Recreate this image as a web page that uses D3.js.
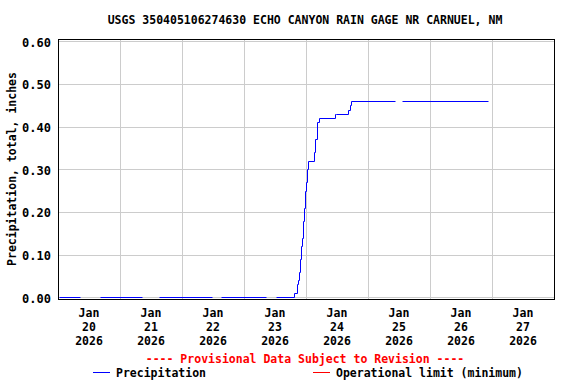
<!DOCTYPE html>
<html>
<head>
<meta charset="utf-8">
<script src="https://cdn.jsdelivr.net/npm/d3@7"></script>
<style>
  body { margin: 0; background: #fff; }
  text { font-family: "DejaVu Sans Mono", monospace; font-weight: bold; font-size: 11.5px; }
</style>
</head>
<body>
<div id="chart"></div>
<script>
// precipitation record, cumulative inches (null = missing data, breaks the line)
var times = [
  "2026-01-20T00:15", "2026-01-20T08:30", "2026-01-20T12:00",
  "2026-01-20T16:15", "2026-01-21T08:30", "2026-01-21T12:00",
  "2026-01-21T15:00", "2026-01-22T11:30", "2026-01-22T13:00",
  "2026-01-22T15:00", "2026-01-23T08:30", "2026-01-23T10:00",
  "2026-01-23T12:30", "2026-01-23T19:30", "2026-01-23T20:35",
  "2026-01-23T21:00", "2026-01-23T21:20", "2026-01-23T21:40",
  "2026-01-23T22:10", "2026-01-23T22:35", "2026-01-23T23:00",
  "2026-01-23T23:25", "2026-01-23T23:40", "2026-01-24T00:05",
  "2026-01-24T00:30", "2026-01-24T00:55", "2026-01-24T03:10",
  "2026-01-24T03:35", "2026-01-24T04:25", "2026-01-24T04:55",
  "2026-01-24T11:15", "2026-01-24T11:40", "2026-01-24T16:25",
  "2026-01-24T17:00", "2026-01-24T17:30", "2026-01-25T10:30",
  "2026-01-25T12:00", "2026-01-25T13:20", "2026-01-26T22:20"
];
var precip = [
  0.00, 0.00, null,
  0.00, 0.00, null,
  0.00, 0.00, null,
  0.00, 0.00, null,
  0.00, 0.01, 0.03,
  0.04, 0.06, 0.09,
  0.12, 0.14, 0.18,
  0.21, 0.25, 0.27,
  0.30, 0.32, 0.34,
  0.37, 0.41, 0.42,
  0.43, 0.43, 0.44,
  0.45, 0.46, 0.46,
  null, 0.46, 0.46
];
var yTicks = [0, 0.1, 0.2, 0.3, 0.4, 0.5, 0.6];
var dayTicks = ["2026-01-20", "2026-01-21", "2026-01-22", "2026-01-23",
                "2026-01-24", "2026-01-25", "2026-01-26", "2026-01-27"];

var W = 576, H = 384;
var margin = {top: 39, right: 22, bottom: 85, left: 58};
var width = W - margin.left - margin.right,
    height = H - margin.top - margin.bottom;

var parse = d3.utcParse("%Y-%m-%dT%H:%M");
var parseDay = d3.utcParse("%Y-%m-%d");
var data = times.map(function(t, i) { return {t: parse(t), v: precip[i]}; });
var days = dayTicks.map(parseDay);

var x = d3.scaleUtc()
  .domain([parseDay("2026-01-20"), parseDay("2026-01-28")])
  .range([0, width]);
var y = d3.scaleLinear().domain([-0.004, 0.6055]).range([height, 0]);

var svg = d3.select("#chart").append("svg")
  .attr("width", W).attr("height", H)
  .append("g")
  .attr("transform", "translate(" + margin.left + "," + margin.top + ")");

// grid
svg.append("g").selectAll("line.h").data(yTicks).enter().append("line")
  .attr("x1", 0).attr("x2", width)
  .attr("y1", d => Math.round(y(d)) + 0.5).attr("y2", d => Math.round(y(d)) + 0.5)
  .attr("stroke", "#cccccc");
svg.append("g").selectAll("line.v").data(days.slice(1)).enter().append("line")
  .attr("x1", d => Math.round(x(d)) + 0.5).attr("x2", d => Math.round(x(d)) + 0.5)
  .attr("y1", 0).attr("y2", height)
  .attr("stroke", "#cccccc");

// y axis labels
var yAxis = d3.axisLeft(y).tickValues(yTicks).tickFormat(d3.format(".2f")).tickSize(0).tickPadding(7);
svg.append("g").call(yAxis).call(g => g.select(".domain").remove())
  .selectAll("text").attr("fill", "#000").style("font-size", "12px")
  .attr("dy", "0.4em");

// x labels, centred at noon of each day
var xl = svg.append("g").selectAll("g").data(days).enter().append("g")
  .attr("transform", d => "translate(" + x(d3.utcHour.offset(d, 12)) + "," + height + ")");
xl.append("text").attr("y", 18).attr("text-anchor", "middle").text("Jan");
xl.append("text").attr("y", 32).attr("text-anchor", "middle").text(d => d3.utcFormat("%d")(d));
xl.append("text").attr("y", 46).attr("text-anchor", "middle").text(d => d3.utcFormat("%Y")(d));

// line
var line = d3.line()
  .defined(d => d.v !== null)
  .x(d => Math.round(x(d.t)) + 0.5)
  .y(d => Math.round(y(d.v)) + 0.5)
  .curve(d3.curveStepAfter);
svg.append("path").datum(data)
  .attr("d", line)
  .attr("fill", "none")
  .attr("stroke", "#0000ff")
  .attr("stroke-width", 1);

// frame
svg.append("rect")
  .attr("x", 0.5).attr("y", 0.5)
  .attr("width", width).attr("height", height)
  .attr("fill", "none").attr("stroke", "#000");

// title
d3.select("svg").append("text")
  .attr("x", 305).attr("y", 24).attr("text-anchor", "middle")
  .text("USGS 350405106274630 ECHO CANYON RAIN GAGE NR CARNUEL, NM");

// y title
d3.select("svg").append("text")
  .attr("transform", "translate(16," + (margin.top + height / 2) + ") rotate(-90)")
  .attr("text-anchor", "middle")
  .text("Precipitation, total, inches");

// provisional note
d3.select("svg").append("text")
  .attr("x", 305).attr("y", 363).attr("text-anchor", "middle")
  .attr("fill", "#ff0000")
  .text("---- Provisional Data Subject to Revision ----");

// legend
var legend = [["Precipitation", "#0000ff", 93], ["Operational limit (minimum)", "#ff0000", 313]];
var lg = d3.select("svg").selectAll("g.legend").data(legend).enter().append("g")
  .attr("class", "legend")
  .attr("transform", d => "translate(" + d[2] + ",372)");
lg.append("rect").attr("x", 0).attr("y", 0).attr("width", 17).attr("height", 1)
  .attr("fill", d => d[1]);
lg.append("text").attr("x", 23).attr("y", 5).text(d => d[0]);
</script>
</body>
</html>
